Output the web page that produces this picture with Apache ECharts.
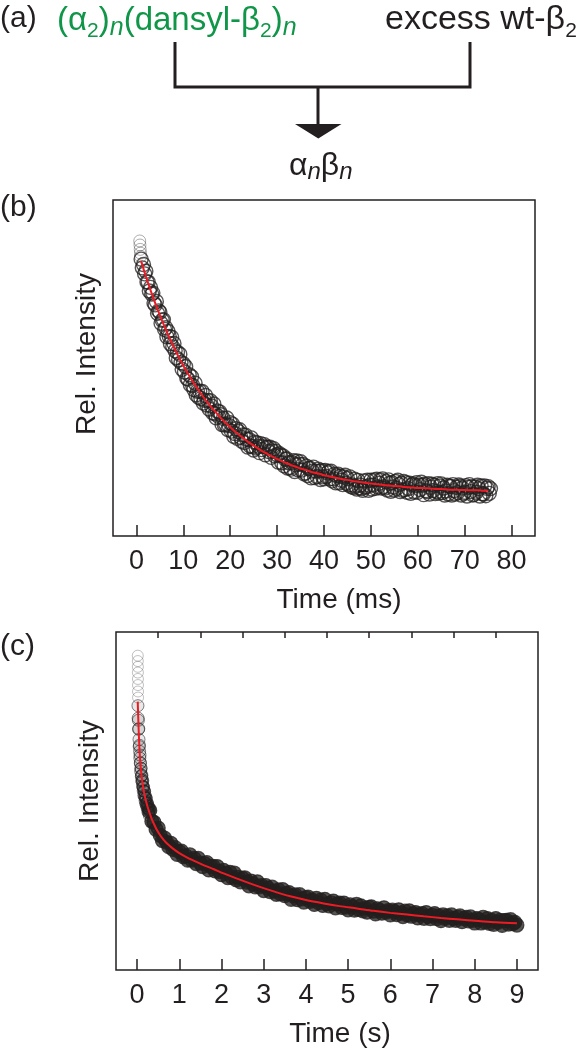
<!DOCTYPE html>
<html>
<head>
<meta charset="utf-8">
<script src="https://cdn.jsdelivr.net/npm/echarts@6/dist/echarts.min.js"></script>
<style>
html,body{margin:0;padding:0;background:#fff;}
#chart{width:581px;height:1050px;}
</style>
</head>
<body>
<div id="chart"></div>
<script>
// ---------- Panel (b): stopped-flow trace, time in ms ----------
const ticksB = [0, 10, 20, 30, 40, 50, 60, 70, 80];
const earlyTimesB = [0.70, 0.75, 0.80, 0.85, 0.90];
const earlyValuesB = [0.878, 0.866, 0.853, 0.842, 0.832];
const startB = 1.0, stepB = 0.25;   // sampling grid of the trace (ms)
const valuesB = [
0.824,0.798,0.808,0.780, 0.788,0.756,0.756,0.729, 0.740,0.720,0.723,0.693, 0.688,0.698,0.663,0.670,
0.666,0.633,0.642,0.644, 0.615,0.620,0.593,0.609, 0.594,0.572,0.592,0.563, 0.573,0.551,0.530,0.547,
0.524,0.541,0.516,0.496, 0.513,0.488,0.504,0.469, 0.467,0.480,0.450,0.474, 0.448,0.436,0.455,0.420,
0.431,0.413,0.431,0.409, 0.430,0.396,0.404,0.418, 0.390,0.403,0.378,0.403, 0.387,0.367,0.393,0.364,
0.352,0.372,0.356,0.369, 0.361,0.332,0.350,0.330, 0.333,0.351,0.317,0.329, 0.337,0.312,0.333,0.297,
0.305,0.319,0.291,0.311, 0.316,0.294,0.282,0.301, 0.278,0.300,0.288,0.265, 0.287,0.268,0.292,0.266,
0.256,0.279,0.262,0.277, 0.267,0.248,0.275,0.257, 0.266,0.272,0.242,0.264, 0.264,0.251,0.264,0.234,
0.253,0.260,0.239,0.252, 0.242,0.220,0.245,0.240, 0.218,0.238,0.209,0.228, 0.230,0.202,0.218,0.204,
0.199,0.218,0.224,0.192, 0.212,0.223,0.197,0.214, 0.221,0.196,0.213,0.185, 0.188,0.208,0.180,0.201,
0.202,0.173,0.193,0.205, 0.174,0.193,0.177,0.199, 0.193,0.168,0.195,0.176, 0.170,0.195,0.177,0.188,
0.192,0.170,0.193,0.164, 0.170,0.184,0.158,0.179, 0.184,0.158,0.178,0.166, 0.153,0.176,0.181,0.157,
0.171,0.152,0.176,0.147, 0.152,0.144,0.169,0.148, 0.140,0.165,0.144,0.152, 0.141,0.136,0.164,0.145,
0.147,0.166,0.136,0.151, 0.166,0.140,0.152,0.167, 0.142,0.169,0.146,0.157, 0.167,0.143,0.170,0.147,
0.143,0.162,0.137,0.167, 0.157,0.133,0.159,0.146, 0.137,0.162,0.142,0.166, 0.153,0.132,0.157,0.136,
0.162,0.138,0.159,0.130, 0.141,0.157,0.127,0.152, 0.155,0.131,0.150,0.159, 0.130,0.152,0.138,0.160,
0.151,0.123,0.154,0.135, 0.132,0.156,0.125,0.145, 0.154,0.135,0.151,0.126, 0.132,0.156,0.128,0.149,
0.155,0.129,0.143,0.122, 0.134,0.151,0.125,0.149, 0.147,0.122,0.153,0.135, 0.125,0.145,0.129,0.152,
0.148,0.122,0.143,0.127, 0.130,0.150,0.119,0.145, 0.153,0.132,0.147,0.122, 0.124,0.146,0.130,0.151,
0.141,0.119,0.149,0.126, 0.125,0.149,0.120,0.142, 0.147,0.127,0.141
];
const fitStartB = 1, fitStepB = 1;
const fitValuesB = [0.818,0.773,0.732,0.693,0.657,0.623,0.591,0.561,0.533,0.507,0.483,0.460,0.439,0.419,0.400,
0.383,0.367,0.351,0.337,0.324,0.311,0.300,0.289,0.278,0.269,0.260,0.251,0.244,0.236,0.229,
0.223,0.217,0.211,0.206,0.201,0.197,0.192,0.188,0.185,0.181,0.178,0.175,0.172,0.169,0.167,
0.164,0.162,0.160,0.158,0.156,0.155,0.153,0.151,0.150,0.149,0.148,0.146,0.145,0.144,0.143,
0.143,0.142,0.141,0.140,0.140,0.139,0.138,0.138,0.137,0.137,0.136,0.136,0.136,0.135,0.135];

// ---------- Panel (c): trace, time in s ----------
const ticksC = [0, 1, 2, 3, 4, 5, 6, 7, 8, 9];
const minorTicksC = [0.5, 1.5, 2.5, 3.5, 4.5, 5.5, 6.5, 7.5, 8.5];
const outlierTimesC = [0.016, 0.017, 0.018, 0.019, 0.020, 0.021, 0.022, 0.023];
const outlierValuesC = [0.930, 0.914, 0.897, 0.880, 0.861, 0.843, 0.824, 0.806];
const startC0 = 0.02, stepC0 = 0.005;
const valuesC0 = [0.782,0.745,0.739,0.712,0.714,0.682,0.661,0.665,0.647,0.627,0.636,0.612,0.613,0.588,
0.597,0.596,0.573,0.576,0.560,0.576,0.556,0.562,0.544,0.560,0.541,0.530,0.540,0.542,0.517,0.529,
0.530,0.514,0.528,0.511,0.501,0.516,0.507,0.492,0.509,0.493,0.508,0.487,0.495,0.480,0.493,0.494,
0.479,0.468,0.485,0.477,0.466,0.483,0.467,0.474,0.457,0.474];
const startC = 0.30, stepC = 0.05;
const valuesC = [
0.472,0.440,0.437,0.416,0.420,0.398,0.383,0.390,0.378,0.365,0.375,0.357,0.362,0.342,0.350,0.352,0.335,0.338,0.325,0.341,
0.325,0.330,0.315,0.330,0.316,0.306,0.315,0.318,0.296,0.306,0.307,0.293,0.306,0.291,0.282,0.295,0.287,0.273,0.289,0.274,
0.287,0.267,0.274,0.261,0.271,0.273,0.260,0.249,0.263,0.255,0.246,0.261,0.246,0.250,0.235,0.250,0.242,0.232,0.245,0.233,
0.224,0.237,0.225,0.238,0.220,0.226,0.229,0.209,0.219,0.222,0.208,0.223,0.210,0.201,0.214,0.216,0.203,0.207,0.194,0.212,
0.199,0.207,0.191,0.209,0.196,0.190,0.199,0.204,0.184,0.195,0.198,0.185,0.198,0.186,0.178,0.193,0.187,0.177,0.194,0.179,
0.190,0.175,0.183,0.171,0.185,0.187,0.174,0.166,0.181,0.176,0.168,0.184,0.171,0.176,0.163,0.177,0.173,0.164,0.178,0.168,
0.158,0.174,0.163,0.175,0.159,0.166,0.170,0.154,0.163,0.167,0.153,0.170,0.159,0.152,0.162,0.167,0.152,0.160,0.146,0.163,
0.153,0.160,0.147,0.163,0.153,0.147,0.156,0.160,0.143,0.152,0.156,0.145,0.157,0.147,0.139,0.152,0.149,0.139,0.156,0.142,
0.152,0.138,0.147,0.135,0.152,0.141,0.147,0.132,0.146,0.147,0.136,0.149,0.137,0.141,0.133
];
const fitTimesC = [0.015,0.03,0.045,0.06,0.08,0.10,0.12,0.15,0.20,0.25,0.30,0.35,0.40,0.47,0.55,0.63,0.71,0.85,1.00,1.20,
1.42,1.60,1.82,2.05,2.40,2.84,3.20,3.63,4.00,4.42,4.80,5.21,5.60,6.00,6.40,6.79,7.20,7.58,8.09,8.50,9.00];
const fitValuesC = [0.794,0.735,0.685,0.645,0.607,0.580,0.560,0.535,0.505,0.482,0.463,0.446,0.432,0.414,0.398,0.385,0.374,0.359,0.346,0.332,
0.319,0.309,0.298,0.286,0.269,0.249,0.234,0.218,0.207,0.197,0.189,0.182,0.175,0.169,0.164,0.159,0.154,0.150,0.145,0.141,0.138];

// ---------- helpers ----------
const pairs = (ts, vs) => vs.map((v, i) => [ts[i], v]);
const grid = (start, step, vs) => vs.map((v, i) => [+(start + i * step).toFixed(4), v]);

const INK = '#231f20';
const RED = '#ed1c24';
const GREEN = '#0f9648';
const FONT = '"Liberation Sans", Arial, Helvetica, sans-serif';

// lay out a run of text pieces (main text, subscripts) on a common baseline
const measureCtx = document.createElement('canvas').getContext('2d');
function textRun(x, baseline, color, pieces) {
  const out = [];
  let cx = x;
  pieces.forEach(p => {
    const font = (p.italic ? 'italic ' : '') + p.size + 'px ' + FONT;
    measureCtx.font = font;
    const w = measureCtx.measureText(p.t).width;
    out.push({
      type: 'text', silent: true,
      style: {text: p.t, x: cx, y: baseline + (p.dy || 0) - 0.35 * p.size,
        fontSize: p.size, fontStyle: p.italic ? 'italic' : 'normal', fontFamily: FONT,
        fill: color, align: 'left', verticalAlign: 'middle'}
    });
    cx += w;
  });
  return out;
}

const chart = echarts.init(document.getElementById('chart'), null, {renderer: 'canvas'});

function xAxisCommon(grid, min, max, ticks, name, pad) {
  return {
    type: 'value', gridIndex: grid, min: min, max: max,
    splitLine: {show: false},
    axisLine: {show: false},
    axisTick: {show: true, inside: true, length: 11, customValues: ticks, lineStyle: {color: INK, width: 1.5}},
    axisLabel: {show: true, customValues: ticks, fontSize: 27, color: INK, margin: 12, fontFamily: FONT},
    name: name, nameLocation: 'middle', nameGap: 50,
    nameTextStyle: {fontSize: 28, color: INK, fontFamily: FONT, padding: [0, 0, 0, pad]}
  };
}
function yAxisCommon(grid, pad) {
  return {
    type: 'value', gridIndex: grid, min: 0, max: 1,
    axisLine: {show: false}, axisTick: {show: false}, axisLabel: {show: false}, splitLine: {show: false},
    name: 'Rel. Intensity', nameLocation: 'middle', nameGap: 12,
    nameTextStyle: {fontSize: 28, color: INK, fontFamily: FONT, padding: [0, 0, 0, pad]}
  };
}
function scatter(xi, data, size, border, fill, bw) {
  return {
    type: 'scatter', xAxisIndex: xi, yAxisIndex: xi === 0 ? 0 : 1, data: data,
    symbol: 'circle', symbolSize: size, silent: true, animation: false,
    itemStyle: {color: fill, borderColor: border, borderWidth: bw},
    emphasis: {disabled: true}
  };
}
function fitLine(xi, data) {
  return {
    type: 'line', xAxisIndex: xi, yAxisIndex: xi === 0 ? 0 : 1, data: data,
    showSymbol: false, smooth: 0.3, silent: true, animation: false, z: 5,
    lineStyle: {color: RED, width: 2}
  };
}

const graphics = [].concat(
  [{type: 'text', style: {text: '(a)', x: 0, y: 19, fontSize: 30, fontFamily: FONT, fill: INK, align: 'left', verticalAlign: 'middle'}}],
  textRun(57, 32, GREEN, [
    {t: '(α', size: 33}, {t: '2', size: 21, dy: 7}, {t: ')', size: 33}, {t: 'n', size: 25, italic: true, dy: 5},
    {t: '(dansyl-β', size: 33}, {t: '2', size: 21, dy: 7}, {t: ')', size: 33}, {t: 'n', size: 25, italic: true, dy: 5}
  ]),
  textRun(385, 32, INK, [{t: 'excess wt-β', size: 34}, {t: '2', size: 21, dy: 7}]),
  textRun(289, 177, INK, [
    {t: 'α', size: 32}, {t: 'n', size: 24, italic: true, dy: 4},
    {t: 'β', size: 32}, {t: 'n', size: 24, italic: true, dy: 4}
  ]),
  [
    {type: 'polyline', shape: {points: [[175, 42], [175, 87], [470, 87], [470, 42]]},
      style: {stroke: INK, lineWidth: 3, fill: null, lineJoin: 'miter'}},
    {type: 'line', shape: {x1: 318, y1: 87, x2: 318, y2: 126}, style: {stroke: INK, lineWidth: 3}},
    {type: 'polygon', shape: {points: [[295, 124], [341.5, 124], [318.3, 138.5]]}, style: {fill: INK}},
    {type: 'text', style: {text: '(b)', x: 0, y: 208, fontSize: 30, fontFamily: FONT, fill: INK, align: 'left', verticalAlign: 'middle'}},
    {type: 'text', style: {text: '(c)', x: 0, y: 647, fontSize: 30, fontFamily: FONT, fill: INK, align: 'left', verticalAlign: 'middle'}}
  ]
);

const option = {
  backgroundColor: '#ffffff',
  animation: false,
  textStyle: {fontFamily: FONT},
  grid: [
    {left: 113, top: 200, width: 422, height: 336, show: true, borderColor: INK, borderWidth: 1.5, backgroundColor: 'transparent'},
    {left: 116, top: 632, width: 422, height: 338, show: true, borderColor: INK, borderWidth: 1.5, backgroundColor: 'transparent'}
  ],
  xAxis: [
    xAxisCommon(0, -5, 85, ticksB, 'Time (ms)', 30),
    xAxisCommon(1, -0.5, 9.5, ticksC, 'Time (s)', 26),
    {
      type: 'value', gridIndex: 1, min: -0.5, max: 9.5,
      splitLine: {show: false}, axisLine: {show: false},
      axisTick: {show: true, inside: true, length: 6, customValues: minorTicksC, lineStyle: {color: INK, width: 1.5}},
      axisLabel: {show: false}
    }
  ],
  yAxis: [yAxisCommon(0, 28), yAxisCommon(1, 0)],
  series: [
    scatter(0, pairs(earlyTimesB, earlyValuesB), 12, 'rgba(35,31,32,0.45)', 'rgba(0,0,0,0)', 1),
    scatter(0, grid(startB, stepB, valuesB), 14, 'rgba(35,31,32,0.95)', 'rgba(0,0,0,0)', 1.4),
    fitLine(0, grid(fitStartB, fitStepB, fitValuesB)),
    scatter(1, pairs(outlierTimesC, outlierValuesC), 11, 'rgba(35,31,32,0.35)', 'rgba(0,0,0,0)', 1),
    scatter(1, grid(startC0, stepC0, valuesC0), 12, 'rgba(35,31,32,0.7)', 'rgba(35,31,32,0.12)', 1),
    scatter(1, grid(startC, stepC, valuesC), 14, 'rgba(35,31,32,0.95)', 'rgba(35,31,32,0.95)', 1.2),
    fitLine(1, pairs(fitTimesC, fitValuesC))
  ],
  graphic: graphics
};
chart.setOption(option);
</script>
</body>
</html>
